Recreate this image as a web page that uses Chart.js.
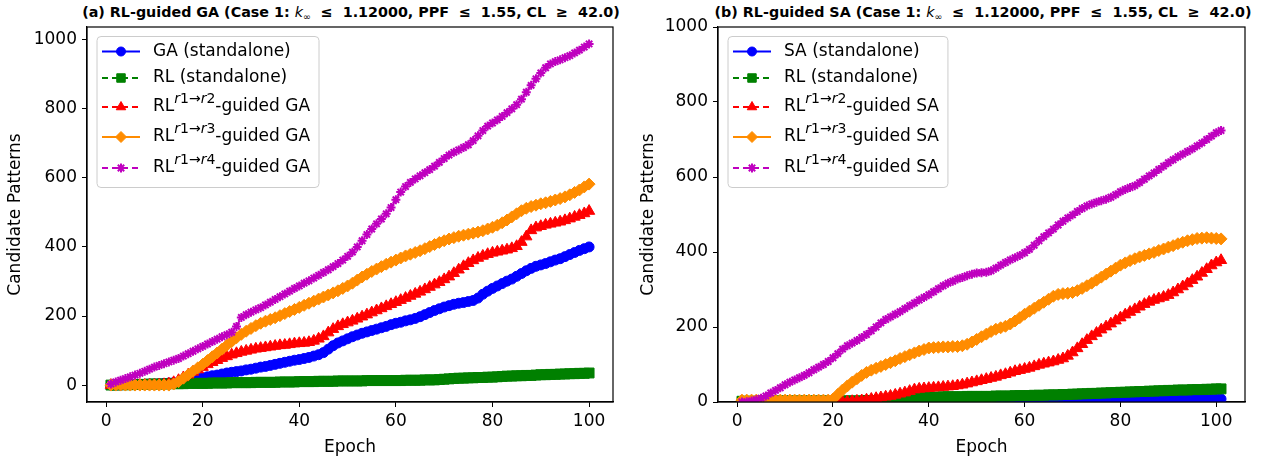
<!DOCTYPE html>
<html lang="en">
<head>
<meta charset="UTF-8">
<title>RL-guided GA / SA candidate patterns</title>
<script src="https://cdn.jsdelivr.net/npm/chart.js"></script>
<style>
  html, body { margin: 0; padding: 0; background: #fff; }
  body { width: 1267px; height: 462px; position: relative; overflow: hidden; font-family: "DejaVu Sans", sans-serif; }
  canvas { position: absolute; top: 0; }
  .title { position: absolute; top: 4px; width: 640px; text-align: center; font-weight: bold; font-size: 14.3px; white-space: nowrap; color: #000; }
  .title i, .title sub { font-weight: normal; }
  .title sub { font-size: 9.5px; vertical-align: -3px; line-height: 0; }
</style>
</head>
<body>
<div class="title" style="left:31px">(a) RL-guided GA (Case 1: <i>k</i><sub>∞</sub> &nbsp;≤&nbsp; 1.12000, PPF &nbsp;≤&nbsp; 1.55, CL &nbsp;≥&nbsp; 42.0)</div>
<div class="title" style="left:663px">(b) RL-guided SA (Case 1: <i>k</i><sub>∞</sub> &nbsp;≤&nbsp; 1.12000, PPF &nbsp;≤&nbsp; 1.55, CL &nbsp;≥&nbsp; 42.0)</div>
<canvas id="chartGA" width="633" height="462" style="left:0"></canvas>
<canvas id="chartSA" width="634" height="462" style="left:633px"></canvas>

<script>
  // (a) GA panel, epochs 1..100
  const gaStandalone = [
    0,0,0,1,1,1,2,2,3,3, 4,5,6,7,8,11,14,16,19,21,
    24,27,29,32,35,37,39,41,44,46, 49,52,54,57,60,63,66,69,72,74,
    77,80,84,88,94,104,114,122,128,134, 140,145,150,154,158,162,166,170,175,179,
    182,186,189,193,198,204,210,216,221,226, 230,234,237,239,242,245,252,263,272,280,
    287,294,301,307,315,323,331,338,344,348, 352,357,362,366,372,378,384,390,395,400
  ];
  const rlStandaloneGA = [
    0,0,1,1,1,2,2,2,3,3, 3,3,4,4,4,4,5,5,5,5,
    5,6,6,6,6,7,7,7,7,7, 8,8,8,8,8,9,9,9,9,10,
    10,10,10,11,11,11,11,12,12,12, 12,12,12,13,13,13,13,13,13,13,
    13,14,14,14,14,15,15,15,16,17, 18,19,20,20,21,21,22,22,23,23,
    24,25,26,26,27,27,28,28,29,30, 30,31,31,32,32,33,33,34,34,35
  ];
  const rlR2GuidedGA = [
    0,0,0,0,0,0,0,0,0,0, 1,2,4,8,14,22,30,38,45,52,
    60,66,72,78,83,88,92,96,99,102, 105,107,109,111,113,115,116,118,120,121,
    122,124,128,134,141,152,162,170,176,181, 186,192,198,204,210,216,222,228,234,240,
    246,252,258,264,270,277,284,291,298,306, 314,324,334,344,353,361,368,374,379,383,
    386,389,392,396,402,414,430,448,456,460, 464,467,470,473,477,482,487,492,497,504
  ];
  const rlR3GuidedGA = [
    0,0,0,0,0,0,0,0,0,0, 0,0,0,3,10,20,30,40,50,60,
    71,82,93,104,115,126,137,147,156,164, 172,179,185,190,195,201,207,213,219,225,
    231,237,243,249,255,261,267,273,280,287, 295,304,313,321,329,336,343,350,356,362,
    368,374,379,384,389,395,401,407,413,418, 423,427,431,434,437,440,443,447,452,457,
    463,470,478,487,496,505,512,517,521,525, 528,532,536,540,545,551,558,565,574,582
  ];
  const rlR4GuidedGA = [
    3,9,14,19,24,29,34,40,46,52, 57,62,67,72,77,84,91,98,105,112,
    119,126,133,140,146,153,170,196,204,211, 218,224,232,240,248,256,264,272,280,287,
    295,302,310,318,326,334,343,352,362,373, 385,400,418,436,452,467,481,496,514,537,
    559,575,587,597,606,615,624,634,645,656, 666,674,681,688,696,708,722,737,750,759,
    768,778,789,800,812,828,848,868,887,904, 919,930,937,942,948,954,962,970,979,988
  ];

  // (b) SA panel, epochs 1..101
  const saStandalone = [
    0,0,0,0,0,0,0,0,0,0, 0,0,0,0,0,0,0,0,0,0,
    0,0,0,0,0,0,0,0,0,0, 0,0,0,0,0,0,0,0,0,0,
    0,0,0,0,0,0,0,0,0,0, 0,0,0,0,0,0,0,0,0,0,
    0,0,0,0,0,1,1,1,1,1, 2,2,2,2,2,3,3,3,3,3,
    4,4,4,4,4,5,5,5,5,5, 6,6,6,6,6,7,7,7,7,8, 8
  ];
  const rlStandaloneSA = [
    2,2,2,2,3,3,3,3,3,3, 3,3,3,3,3,3,3,3,3,3,
    3,3,3,3,3,3,4,4,4,4, 4,4,4,5,5,9,12,13,13,13,
    13,13,14,14,14,14,14,15,15,15, 15,15,15,16,16,16,16,17,17,17,
    17,18,18,18,19,19,19,20,20,21, 21,22,22,23,23,24,24,25,25,26,
    26,27,27,28,28,29,29,30,30,31, 31,32,32,32,33,33,33,34,34,35, 35
  ];
  const rlR2GuidedSA = [
    0,0,0,0,0,0,0,0,0,0, 0,0,0,0,0,0,0,0,0,0,
    0,0,1,2,3,4,6,8,10,12, 14,16,19,22,25,29,33,35,36,37,
    38,39,40,41,42,44,46,49,52,55, 58,61,64,67,71,74,78,82,85,88,
    91,95,99,102,105,108,112,116,123,132, 143,154,165,175,184,193,201,209,217,225,
    233,240,247,254,261,267,272,276,280,285, 292,300,308,316,325,334,344,354,364,372, 378
  ];
  const rlR3GuidedSA = [
    5,5,5,5,5,5,5,5,5,5, 5,5,5,5,5,5,5,5,5,8,
    20,32,43,53,62,71,79,85,90,95, 100,105,110,116,121,126,131,136,140,144,
    145,146,147,147,148,148,150,154,160,167, 174,181,188,194,198,202,208,216,225,234,
    242,250,258,266,274,282,287,289,290,292, 297,303,310,317,325,333,341,349,357,365,
    371,377,382,387,391,395,399,404,408,413, 417,422,426,430,433,436,437,438,437,436, 435
  ];
  const rlR4GuidedSA = [
    0,1,3,6,10,16,24,31,38,46, 53,59,65,71,78,86,93,100,108,118,
    129,141,150,157,164,172,180,190,200,211, 220,227,234,241,249,257,264,272,279,286,
    294,302,310,317,322,328,332,337,341,344, 345,346,350,357,365,372,379,385,391,398,
    407,418,430,441,451,461,472,482,491,499, 508,516,523,528,533,537,541,546,553,561,
    567,572,577,585,594,603,611,620,629,638, 646,654,661,668,675,683,691,700,709,718, 724
  ];

  const xTicks = [0, 20, 40, 60, 80, 100];
  const yTicks = [0, 200, 400, 600, 800, 1000];
  const labelsGA = ['GA (standalone)', 'RL (standalone)', 'RL^{r1→r2}-guided GA', 'RL^{r1→r3}-guided GA', 'RL^{r1→r4}-guided GA'];
  const labelsSA = ['SA (standalone)', 'RL (standalone)', 'RL^{r1→r2}-guided SA', 'RL^{r1→r3}-guided SA', 'RL^{r1→r4}-guided SA'];

  // styles per series (matplotlib look)
  const styles = [
    { color: '#0000ff', point: 'circle',   radius: 5,   legendRadius: 4.5, dash: [] },
    { color: '#008000', point: 'rect',     radius: 7,   legendRadius: 6,   dash: [6, 4] },
    { color: '#ff0000', point: 'triangle', radius: 6.5, legendRadius: 5.5, dash: [6, 4] },
    { color: '#ff8c00', point: 'rectRot',  radius: 6,   legendRadius: 5.5, dash: [] },
    { color: '#bf00bf', point: 'star',     radius: 4.5, legendRadius: 4.5, dash: [6, 4] }
  ];

  const FONT = "'DejaVu Sans', sans-serif";
  Chart.defaults.font.family = FONT;
  Chart.defaults.color = '#000';

  function drawMarker(ctx, st, x, y) {
    const opts = { pointStyle: st.point, radius: st.legendRadius, borderWidth: st.point === 'star' ? 2 : 1, rotation: 0 };
    ctx.save();
    ctx.fillStyle = st.color;
    ctx.strokeStyle = st.color;
    ctx.lineWidth = opts.borderWidth;
    ctx.setLineDash([]);
    Chart.helpers.drawPoint(ctx, opts, x, y);
    ctx.restore();
  }

  function drawLabel(ctx, label, x, y) {
    const m = label.match(/^(.*?)\^\{(.*?)\}(.*)$/);
    ctx.textBaseline = 'middle';
    ctx.textAlign = 'left';
    ctx.fillStyle = '#000';
    ctx.font = '17px ' + FONT;
    if (!m) { ctx.fillText(label, x, y); return ctx.measureText(label).width; }
    const x0 = x;
    ctx.fillText(m[1], x, y);
    x += ctx.measureText(m[1]).width;
    for (const ch of m[2]) {
      ctx.font = (/[a-z]/.test(ch) ? 'italic ' : '') + '14px ' + FONT;
      ctx.fillText(ch, x, y - 8);
      x += ctx.measureText(ch).width;
    }
    ctx.font = '17px ' + FONT;
    ctx.fillText(m[3], x, y);
    x += ctx.measureText(m[3]).width;
    return x - x0;
  }

  const framePlugin = {
    id: 'frameAndLegend',
    afterDatasetsDraw(chart) {
      const { ctx, chartArea: a } = chart;
      ctx.save();
      ctx.strokeStyle = '#000';
      ctx.lineWidth = 1.2;
      ctx.strokeRect(a.left, a.top, a.right - a.left, a.bottom - a.top);

      // legend box in upper left
      const labels = chart.options.plugins.frameAndLegend.labels;
      const rows = [51.5, 78, 107, 137, 168];
      const boxX = a.left + 10, boxY = a.top + 9.5;
      const textX = a.left + 66;
      let maxW = 0;
      const off = document.createElement('canvas').getContext('2d');
      labels.forEach(l => { maxW = Math.max(maxW, drawLabel(off, l, 0, 0)); });
      const boxW = textX + maxW + 9 - boxX;
      const boxH = 151;
      ctx.fillStyle = 'rgba(255,255,255,0.8)';
      ctx.strokeStyle = '#cccccc';
      ctx.lineWidth = 1;
      ctx.beginPath();
      ctx.roundRect(boxX, boxY, boxW, boxH, 4);
      ctx.fill();
      ctx.stroke();

      labels.forEach((l, i) => {
        const st = styles[i];
        const y = rows[i];
        ctx.save();
        ctx.strokeStyle = st.color;
        ctx.lineWidth = 2;
        ctx.setLineDash(st.dash);
        ctx.beginPath();
        ctx.moveTo(a.left + 15, y);
        ctx.lineTo(a.left + 53, y);
        ctx.stroke();
        ctx.restore();
        drawMarker(ctx, st, a.left + 34, y);
        drawLabel(ctx, l, textX, y);
      });
      ctx.restore();
    }
  };

  function makeChart(id, series, labels, xMin, xMax, yMin, yMax, axisW, padRight) {
    const datasets = series.map((vals, i) => ({
      label: labels[i],
      data: vals.map((v, k) => ({ x: k + 1, y: v })),
      borderColor: styles[i].color,
      backgroundColor: styles[i].color,
      borderWidth: 2,
      borderDash: styles[i].dash,
      pointStyle: styles[i].point,
      pointRadius: styles[i].radius,
      pointBorderWidth: styles[i].point === 'star' ? 2 : 1,
      pointBackgroundColor: styles[i].color,
      pointBorderColor: styles[i].color,
      tension: 0,
      order: series.length - i
    }));
    return new Chart(document.getElementById(id), {
      type: 'line',
      data: { datasets },
      options: {
        responsive: false,
        animation: false,
        layout: { padding: { top: 27, right: padRight, left: 0, bottom: 0 } },
        plugins: {
          legend: { display: false },
          tooltip: { enabled: false },
          frameAndLegend: { labels }
        },
        scales: {
          x: {
            type: 'linear',
            min: xMin,
            max: xMax,
            afterBuildTicks: s => { s.ticks = xTicks.map(v => ({ value: v })); },
            afterFit: s => { s.height = 60; },
            ticks: { font: { size: 17 }, padding: 4, maxRotation: 0, callback: v => String(v) },
            grid: { drawOnChartArea: false, drawTicks: true, tickLength: 5, tickColor: '#000' },
            border: { color: '#000', width: 1.2 },
            title: { display: true, text: 'Epoch', font: { size: 17 }, padding: { top: 0, bottom: 4 } }
          },
          y: {
            type: 'linear',
            min: yMin,
            max: yMax,
            afterBuildTicks: s => { s.ticks = yTicks.map(v => ({ value: v })); },
            afterFit: s => { s.width = axisW; },
            ticks: { font: { size: 17 }, padding: 5, callback: v => String(v) },
            grid: { drawOnChartArea: false, drawTicks: true, tickLength: 5, tickColor: '#000' },
            border: { color: '#000', width: 1.2 },
            title: { display: true, text: 'Candidate Patterns', font: { size: 17 }, padding: { top: 5, bottom: 0 } }
          }
        }
      },
      plugins: [framePlugin]
    });
  }

  makeChart('chartGA',
    [gaStandalone, rlStandaloneGA, rlR2GuidedGA, rlR3GuidedGA, rlR4GuidedGA],
    labelsGA, -3.95, 104.95, -49, 1037, 87, 20);
  makeChart('chartSA',
    [saStandalone, rlStandaloneSA, rlR2GuidedSA, rlR3GuidedSA, rlR4GuidedSA],
    labelsSA, -4, 106, 0, 1000, 85, 22);
</script>
</body>
</html>
